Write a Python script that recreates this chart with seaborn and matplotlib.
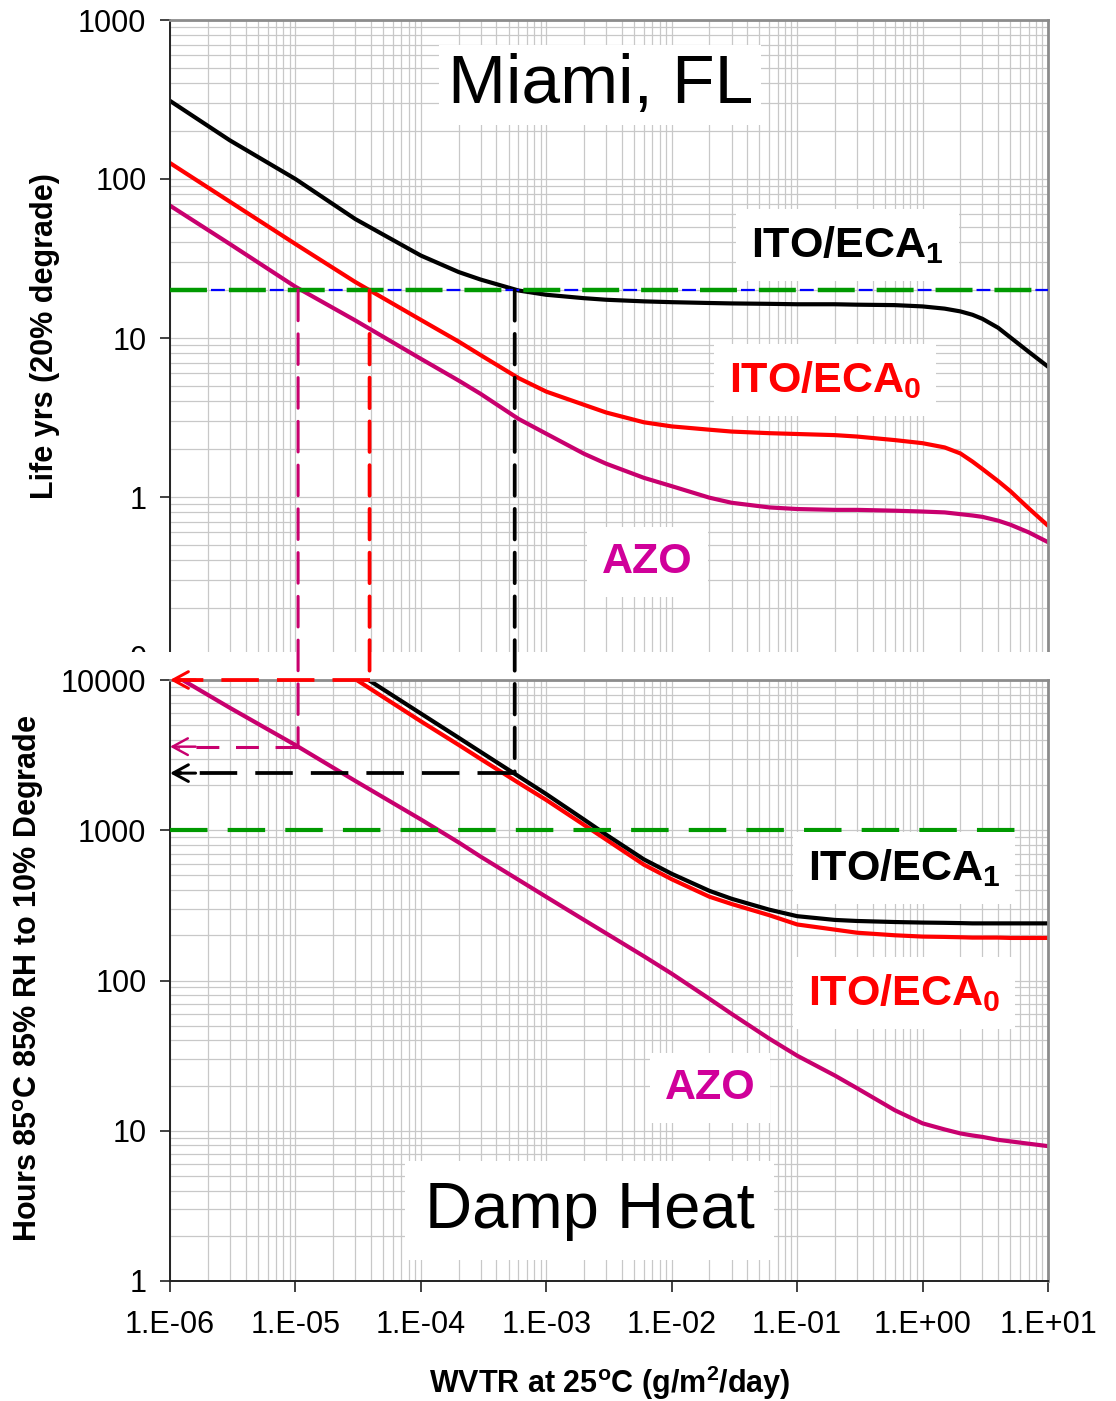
import numpy as np
import pandas as pd
import matplotlib
matplotlib.use("Agg")
import matplotlib.pyplot as plt
from matplotlib.patches import Rectangle, ConnectionPatch
from matplotlib.ticker import LogLocator, FixedLocator, NullFormatter
import seaborn as sns

# ---------------------------------------------------------------- data
WVTR = [1e-6, 3e-6, 1e-5, 3e-5, 1e-4, 2e-4, 3e-4, 6e-4, 1e-3, 2e-3, 3e-3,
        6e-3, 1e-2, 2e-2, 3e-2, 6e-2, 1e-1, 2e-1, 3e-1, 6e-1, 1, 1.5, 2,
        2.5, 3, 4, 5, 7, 10]

# Miami, FL field life (years to 20 % degradation)
LIFE_ECA1 = [310, 175, 100, 56, 33, 26, 23.3, 19.9, 18.7, 17.8, 17.4,
             17.0, 16.8, 16.6, 16.5, 16.4, 16.3, 16.3, 16.2, 16.1, 15.8,
             15.3, 14.7, 14.0, 13.2, 11.6, 10.1, 8.2, 6.6]
LIFE_ECA0 = [126, 72, 39, 22.5, 13, 9.5, 7.8, 5.6, 4.6, 3.8, 3.4,
             2.95, 2.78, 2.65, 2.58, 2.52, 2.49, 2.45, 2.4, 2.28, 2.18,
             2.05, 1.88, 1.67, 1.5, 1.26, 1.09, 0.85, 0.66]
LIFE_AZO = [68, 39, 21, 12.9, 7.4, 5.4, 4.45, 3.1, 2.5, 1.87, 1.62,
            1.32, 1.17, 0.99, 0.92, 0.86, 0.84, 0.83, 0.83, 0.82, 0.81,
            0.8, 0.78, 0.765, 0.75, 0.71, 0.67, 0.6, 0.52]

# Damp heat (hours at 85 C / 85 % RH to 10 % degradation)
WVTR_DH_ECA = WVTR[2:]
HOURS_ECA1 = [20600, 11400, 5980, 4130, 3320, 2290, 1740, 1178, 935,
              640, 513, 395, 350, 296, 268, 253, 249, 245, 243, 242, 241,
              240, 240, 240, 240, 240, 240]
HOURS_ECA0 = [18300, 10140, 5310, 3700, 2980, 2070, 1590, 1085, 867,
              590, 472, 361, 323, 272, 236, 218, 208, 200, 196, 195, 194,
              193, 193, 193, 192, 192, 192]
HOURS_AZO = [11200, 6530, 3690, 2130, 1180, 830, 667, 468, 360, 253, 206,
             145, 111, 75.5, 60, 41, 31.6, 23.3, 19.2, 13.7, 11.2, 10.2,
             9.6, 9.3, 9.1, 8.7, 8.5, 8.2, 7.9]

LIFE_TARGET = 20       # years
DH_TARGET = 1000       # hours
# crossing of the 20-year target and the matching damp-heat hours
DROP_WVTR = [1.05e-5, 3.9e-5, 5.6e-4]
DROP_HOURS = [3600, 10000, 2400]

XTICKS = [1e-6, 1e-5, 1e-4, 1e-3, 1e-2, 1e-1, 1, 10]
XTICK_LABELS = ["1.E-06", "1.E-05", "1.E-04", "1.E-03", "1.E-02",
                "1.E-01", "1.E+00", "1.E+01"]
TOP_YTICKS = [0.1, 1, 10, 100, 1000]
TOP_YLABELS = ["0", "1", "10", "100", "1000"]
BOT_YTICKS = [1, 10, 100, 1000, 10000]
BOT_YLABELS = ["1", "10", "100", "1000", "10000"]

MATERIALS = ["AZO", "ITO/ECA0", "ITO/ECA1"]
C_BLACK, C_RED, C_AZO, C_AZO_TXT = "#000000", "#ff0000", "#c8006e", "#d0009a"
PALETTE = {"AZO": C_AZO, "ITO/ECA0": C_RED, "ITO/ECA1": C_BLACK}
DROP_COLORS = [C_AZO, C_RED, C_BLACK]
GREEN, BLUE = "#009900", "#0000ff"

life_df = pd.concat([
    pd.DataFrame({"wvtr": WVTR, "value": LIFE_AZO, "material": "AZO"}),
    pd.DataFrame({"wvtr": WVTR, "value": LIFE_ECA0, "material": "ITO/ECA0"}),
    pd.DataFrame({"wvtr": WVTR, "value": LIFE_ECA1, "material": "ITO/ECA1"}),
], ignore_index=True)
dh_df = pd.concat([
    pd.DataFrame({"wvtr": WVTR, "value": HOURS_AZO, "material": "AZO"}),
    pd.DataFrame({"wvtr": WVTR_DH_ECA, "value": HOURS_ECA0, "material": "ITO/ECA0"}),
    pd.DataFrame({"wvtr": WVTR_DH_ECA, "value": HOURS_ECA1, "material": "ITO/ECA1"}),
], ignore_index=True)

# ---------------------------------------------------------------- style
sns.set_style("white")
plt.rcParams["font.family"] = ["Liberation Sans", "DejaVu Sans"]
plt.rcParams["mathtext.fontset"] = "custom"
plt.rcParams["mathtext.rm"] = "Liberation Sans"
plt.rcParams["mathtext.bf"] = "Liberation Sans:bold"
plt.rcParams["mathtext.it"] = "Liberation Sans:italic"
plt.rcParams["lines.scale_dashes"] = False
plt.rcParams["lines.solid_joinstyle"] = "round"
for key in ("text.color", "axes.labelcolor", "xtick.color", "ytick.color"):
    plt.rcParams[key] = "black"

W, H = 1116, 1401
fig = plt.figure(figsize=(W / 100, H / 100), dpi=100)
fig.patch.set_facecolor("white")
ax_top = fig.add_axes([170 / W, 1 - 656 / H, 878 / W, 636 / H], zorder=0)
ax_bot = fig.add_axes([170 / W, 1 - 1281 / H, 878 / W, 601 / H], zorder=2)


def style_axes(ax, ylim, yticks, ylabels):
    ax.set_xscale("log")
    ax.set_yscale("log")
    ax.set_xlim(1e-6, 10)
    ax.set_ylim(*ylim)
    ax.xaxis.set_major_locator(FixedLocator(XTICKS))
    ax.xaxis.set_minor_locator(LogLocator(base=10, subs=np.arange(2, 10), numticks=100))
    ax.xaxis.set_minor_formatter(NullFormatter())
    ax.yaxis.set_major_locator(FixedLocator(yticks))
    ax.set_yticklabels(ylabels)
    ax.yaxis.set_minor_locator(LogLocator(base=10, subs=np.arange(2, 10), numticks=100))
    ax.yaxis.set_minor_formatter(NullFormatter())
    ax.grid(True, which="both", color="#c8c8c8", lw=0.9)
    ax.set_axisbelow(True)
    ax.tick_params(which="minor", length=0)
    ax.tick_params(axis="y", which="major", left=True, direction="out",
                   length=7, width=1.3, color="#333333", labelcolor="black",
                   labelsize=22, pad=10)
    ax.set_xlabel("")
    ax.set_ylabel("")
    for side in ("top", "right"):
        ax.spines[side].set_color("#8c8c8c")
        ax.spines[side].set_linewidth(2)
    for side in ("left", "bottom"):
        ax.spines[side].set_color("#222222")
        ax.spines[side].set_linewidth(1.4)


# ---------------------------------------------------------------- top: Miami
sns.lineplot(data=life_df, x="wvtr", y="value", hue="material",
             hue_order=MATERIALS, palette=PALETTE, estimator=None,
             linewidth=3, legend=False, ax=ax_top)
style_axes(ax_top, (0.1, 1000), TOP_YTICKS, TOP_YLABELS)
ax_top.tick_params(axis="x", bottom=False, labelbottom=False)
ax_top.spines["bottom"].set_visible(False)

ax_top.axhline(LIFE_TARGET, color=BLUE, lw=1.6, ls=(12.9, (10, 32.4)), zorder=3)
ax_top.axhline(LIFE_TARGET, color=GREEN, lw=3.2, ls=(0, (26.6, 15.8)), zorder=3)

box = dict(boxstyle="square,pad=0.35", facecolor="white", edgecolor="none")
ax_top.text(0.49, 0.898, "Miami, FL", transform=ax_top.transAxes, fontsize=50,
            color="black", ha="center", va="center", zorder=4,
            bbox=dict(boxstyle="square,pad=0.12", facecolor="white", edgecolor="none"))
ax_top.text(0.772, 0.646, r"ITO/ECA$_{\mathbf{1}}$", transform=ax_top.transAxes,
            fontsize=31, fontweight="bold", color=C_BLACK, ha="center",
            va="center", zorder=4, bbox=box)
ax_top.text(0.746, 0.434, r"ITO/ECA$_{\mathbf{0}}$", transform=ax_top.transAxes,
            fontsize=31, fontweight="bold", color=C_RED, ha="center",
            va="center", zorder=4, bbox=box)
ax_top.text(0.544, 0.148, "AZO", transform=ax_top.transAxes, fontsize=31,
            fontweight="bold", color=C_AZO_TXT, ha="center", va="center",
            zorder=4, bbox=box)

# ---------------------------------------------------------------- bottom: damp heat
sns.lineplot(data=dh_df, x="wvtr", y="value", hue="material",
             hue_order=MATERIALS, palette=PALETTE, estimator=None,
             linewidth=3, legend=False, ax=ax_bot)
style_axes(ax_bot, (1, 10000), BOT_YTICKS, BOT_YLABELS)
ax_bot.set_xticklabels(XTICK_LABELS)
ax_bot.tick_params(axis="x", which="major", bottom=True, direction="out",
                   length=8, width=1.3, color="#333333", labelcolor="black",
                   labelsize=22, pad=13)

ax_bot.plot([1e-6, 6.7], [DH_TARGET, DH_TARGET], color=GREEN, lw=3,
            ls=(0, (27, 14.5)), zorder=3)

ax_bot.text(0.836, 0.687, r"ITO/ECA$_{\mathbf{1}}$", transform=ax_bot.transAxes,
            fontsize=31, fontweight="bold", color=C_BLACK, ha="center",
            va="center", zorder=4, bbox=box)
ax_bot.text(0.836, 0.479, r"ITO/ECA$_{\mathbf{0}}$", transform=ax_bot.transAxes,
            fontsize=31, fontweight="bold", color=C_RED, ha="center",
            va="center", zorder=4, bbox=box)
ax_bot.text(0.615, 0.321, "AZO", transform=ax_bot.transAxes, fontsize=31,
            fontweight="bold", color=C_AZO_TXT, ha="center", va="center",
            zorder=4, bbox=box)
ax_bot.text(0.478, 0.117, "Damp Heat", transform=ax_bot.transAxes, fontsize=47,
            color="black", ha="center", va="center", zorder=4,
            bbox=dict(boxstyle="square,pad=0.3", facecolor="white", edgecolor="none"))

# white band separating the two panels
fig.add_artist(Rectangle((0, 1 - 680 / H), 1, 28 / H, transform=fig.transFigure,
                         facecolor="white", edgecolor="none", zorder=1))

# drop lines: target life -> damp-heat hours -> arrow to the hours axis
for x0, hrs, col in zip(DROP_WVTR, DROP_HOURS, DROP_COLORS):
    lw = 2.2 if col == C_AZO else 2.7
    con = ConnectionPatch(xyA=(x0, LIFE_TARGET), coordsA=ax_top.transData,
                          xyB=(x0, hrs), coordsB=ax_bot.transData,
                          color=col, lw=lw, linestyle=(0, (22, 9.5)),
                          zorder=3)
    fig.add_artist(con)
    dash = (0, (16.5, 12)) if col == C_AZO else (0, (27, 13))
    ax_bot.plot([x0, 1.15e-6], [hrs, hrs], color=col, lw=lw, ls=dash,
                clip_on=False, zorder=5)
    ax_bot.annotate("", xy=(1e-6, hrs), xytext=(1.6e-6, hrs),
                    arrowprops=dict(arrowstyle="->,head_length=1.1,head_width=0.6",
                                    color=col, lw=lw * 0.8, shrinkA=0, shrinkB=0,
                                    mutation_scale=10),
                    annotation_clip=False, zorder=5)

# axis titles
fig.text(45 / W, 1 - 336 / H, "Life yrs (20% degrade)", rotation=90,
         fontsize=22, fontweight="bold", color="black", ha="center", va="center")
fig.text(29 / W, 1 - 978 / H, r"Hours 85$^{\mathbf{o}}$C 85% RH to 10% Degrade",
         rotation=90, fontsize=22, fontweight="bold", color="black",
         ha="center", va="center")
fig.text(610 / W, 1 - 1383 / H, r"WVTR at 25$^{\mathbf{o}}$C (g/m$^{\mathbf{2}}$/day)",
         fontsize=22, fontweight="bold", color="black", ha="center", va="center")

fig.savefig("out.png", dpi=100, facecolor="white")
